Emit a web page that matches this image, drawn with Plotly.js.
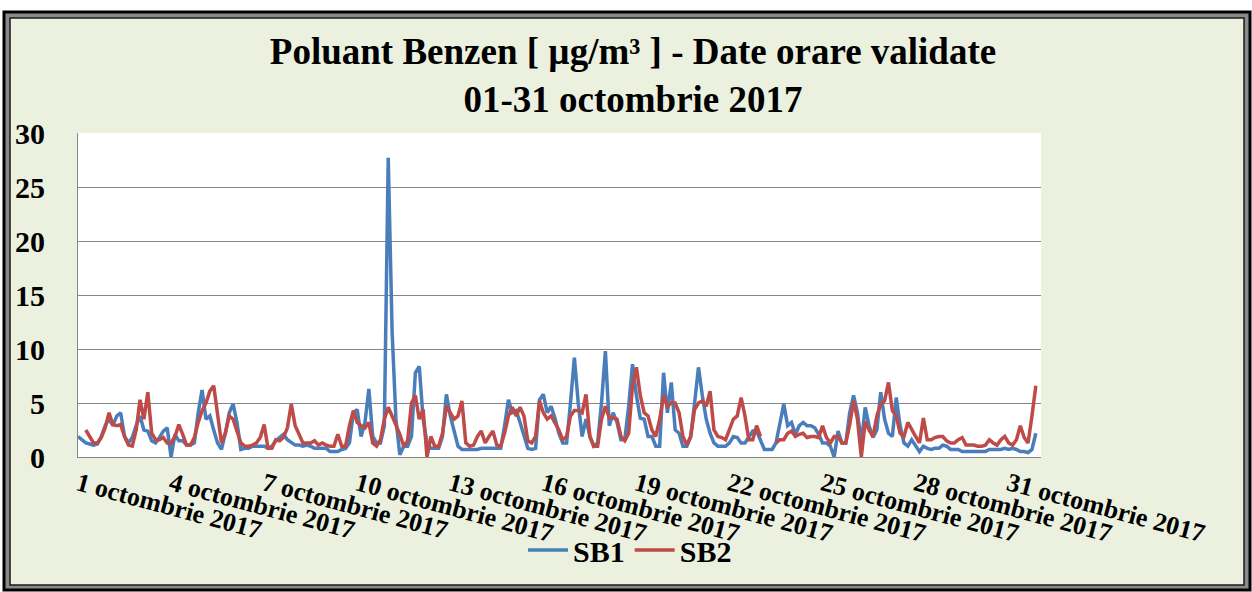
<!DOCTYPE html>
<html><head><meta charset="utf-8">
<script src="https://cdn.plot.ly/plotly-3.0.1.min.js"></script>
<style>html,body{margin:0;padding:0;background:#fff;}#chart{width:1252px;height:592px;}</style>
</head><body><div id="chart"></div>
<script>
// 3-hourly readings, 01-31 Oct 2017, starting 2017-10-01 00:00
const startTime = '2017-10-01 00:00';
const stepMs = 3 * 3600 * 1000;

const sb1 = [
  1.9,1.6,1.3,1.2,1.1,1.2,1.9,2.9,
  3.5,2.9,3.8,4.1,1.9,1.3,1.8,2.9,
  3.8,2.5,2.4,1.5,1.3,1.8,2.4,2.7,
  0,2.1,1.5,1.5,1.1,1.1,1.3,4.1,
  6.2,3.5,3.8,2.5,1.3,0.7,2.2,4.1,
  4.9,3.2,0.7,0.8,0.8,1.0,1.0,1.0,
  1.0,0.8,1.0,1.5,1.8,2.1,1.6,1.3,
  1.1,1.1,1.0,1.1,1.0,0.8,0.8,0.8,
  0.8,0.5,0.5,0.5,0.7,0.8,1.3,4.1,
  4.4,1.9,3.2,6.3,1.9,1.3,1.3,2.9,
  27.7,11.6,3.4,0.2,1.0,1.0,1.9,7.8,
  8.4,3.5,1.3,0.8,0.8,0.8,1.9,5.8,
  3.8,2.5,1.0,0.7,0.7,0.7,0.7,0.7,
  0.8,0.8,0.8,0.8,0.8,0.8,2.9,5.3,
  4.1,4.3,3.2,1.9,0.8,0.7,0.8,5.3,
  5.8,4.1,4.7,3.6,2.2,1.3,1.3,5.0,
  9.2,5.0,1.9,3.5,1.9,1.0,1.3,5.0,
  9.8,2.9,4.1,3.2,1.6,1.6,4.7,8.6,
  5.7,3.6,3.5,1.9,1.9,1.0,1.0,7.8,
  4.1,6.9,2.5,2.2,1.0,1.0,1.9,5.0,
  8.3,5.7,3.5,2.2,1.3,1.0,1.0,1.0,
  1.3,1.9,1.8,1.3,1.3,1.9,2.4,2.4,
  1.6,0.7,0.7,0.7,1.3,3.2,4.9,2.9,
  3.2,2.1,2.9,3.2,2.9,2.9,2.7,2.1,
  1.3,1.3,1.0,0,2.4,1.3,1.3,4.1,
  5.7,4.1,1.3,4.6,2.9,1.8,2.5,6.0,
  3.5,2.2,1.9,5.5,2.9,1.3,1.0,1.6,
  1.0,0.5,1.0,0.8,0.7,0.8,0.8,1.1,
  1.0,0.7,0.7,0.7,0.5,0.5,0.5,0.5,
  0.5,0.5,0.5,0.7,0.7,0.7,0.7,0.8,
  0.7,0.8,0.7,0.5,0.5,0.4,0.7,2.2
];

const sb2 = [
  null,null,2.5,1.9,1.3,1.3,1.8,2.7,
  4.1,3.0,2.9,3.0,1.9,1.1,1.0,2.5,
  5.3,3.5,6.0,2.2,1.6,1.6,1.8,1.3,
  1.3,1.9,3.0,2.1,1.1,1.1,1.8,3.2,
  4.3,5.0,6.1,6.6,4.1,1.3,2.2,3.8,
  3.5,2.5,1.3,1.0,1.0,1.1,1.3,1.8,
  3.0,0.8,0.8,1.6,1.5,1.8,2.7,4.9,
  2.9,2.1,1.3,1.3,1.3,1.5,1.1,1.3,
  1.1,1.0,1.0,2.1,1.0,1.0,2.9,4.3,
  3.2,2.9,2.7,3.2,1.3,1.0,1.6,3.5,
  4.6,3.8,3.0,2.1,1.0,1.5,5.0,5.7,
  3.5,4.4,0,1.9,1.0,1.0,2.2,4.7,
  4.1,3.5,3.8,5.2,1.3,1.0,1.1,1.9,
  2.4,1.3,1.9,2.4,1.1,1.0,2.2,3.8,
  4.6,3.8,4.6,3.8,1.5,1.3,1.9,5.2,
  4.1,3.5,3.8,3.2,2.5,1.6,1.9,3.8,
  4.3,4.3,4.1,5.8,1.9,1.0,1.0,3.5,
  4.7,3.6,3.6,3.5,1.9,1.5,2.2,6.6,
  8.3,5.7,4.1,3.8,2.5,1.9,3.5,5.7,
  4.7,5.0,5.0,4.1,1.9,1.1,1.9,4.4,
  5.0,5.2,4.7,6.1,2.5,1.9,1.8,1.6,
  2.5,3.5,3.8,5.5,3.8,1.6,1.6,2.9,
  1.9,null,null,null,1.3,1.6,1.6,2.2,
  2.4,1.9,2.1,2.2,1.8,1.9,1.9,1.8,
  2.9,1.8,1.3,1.9,1.9,1.3,1.3,3.0,
  5.2,3.5,0,3.3,2.5,1.9,3.8,4.9,
  5.2,6.9,4.3,3.8,2.2,1.9,3.2,2.5,
  1.9,1.3,3.6,1.6,1.6,1.8,1.9,1.9,
  1.5,1.3,1.3,1.6,1.8,1.1,1.1,1.1,
  1.0,1.0,1.1,1.6,1.3,1.1,1.6,1.9,
  1.3,1.1,1.6,2.9,1.8,1.3,3.8,6.6
];

const tickDates = ['2017-10-01','2017-10-04','2017-10-07','2017-10-10','2017-10-13','2017-10-16',
                   '2017-10-19','2017-10-22','2017-10-25','2017-10-28','2017-10-31'];
const tickLabels = ['1 octombrie 2017','4 octombrie 2017','7 octombrie 2017','10 octombrie 2017',
                    '13 octombrie 2017','16 octombrie 2017','19 octombrie 2017','22 octombrie 2017',
                    '25 octombrie 2017','28 octombrie 2017','31 octombrie 2017'];
const seriesNames = ['SB1','SB2'];

const W = 1252, H = 592;
const M = {l: 78, r: 211, t: 133, b: 135};
const PW = W - M.l - M.r, PH = H - M.t - M.b;
const px = x => (x - M.l) / PW;
const py = y => (H - M.b - y) / PH;
const serif = 'Liberation Serif, Times New Roman, serif';

const traces = [
  {x0: startTime, dx: stepMs, y: sb1, name: seriesNames[0], type: 'scatter', mode: 'lines',
   line: {color: '#4A7EBB', width: 3.5}},
  {x0: startTime, dx: stepMs, y: sb2, name: seriesNames[1], type: 'scatter', mode: 'lines',
   line: {color: '#BE4B48', width: 3.5}}
];

const layout = {
  width: W, height: H,
  margin: M,
  paper_bgcolor: '#ffffff',
  plot_bgcolor: '#ffffff',
  font: {family: serif, color: '#000', weight: 700},
  title: {
    text: 'Poluant Benzen [ µg/m³ ] - Date orare validate<br>01-31 octombrie 2017',
    font: {family: serif, size: 37, color: '#000', weight: 700},
    x: 0.5056, xref: 'container', xanchor: 'center',
    y: 1 - 64 / H, yref: 'container', yanchor: 'top'
  },
  xaxis: {
    type: 'date',
    range: ['2017-10-01 00:00', '2017-11-01 01:00'],
    tickmode: 'array', tickvals: tickDates, ticktext: tickLabels,
    tickangle: 15,
    tickfont: {family: serif, size: 26, color: '#000', weight: 700},
    showgrid: false, zeroline: false,
    showline: true, linecolor: '#868686', linewidth: 1,
    ticks: 'outside', ticklen: 1, tickcolor: 'rgba(0,0,0,0)'
  },
  yaxis: {
    range: [0, 30], dtick: 5, tick0: 0,
    tickfont: {family: serif, size: 30, color: '#000', weight: 700},
    showgrid: true, gridcolor: '#868686', gridwidth: 1,
    zeroline: false,
    showline: true, linecolor: '#868686', linewidth: 1,
    ticks: 'outside', ticklen: 26, tickcolor: 'rgba(0,0,0,0)'
  },
  legend: {
    orientation: 'h', x: px(630), xanchor: 'center', y: py(550), yanchor: 'middle',
    font: {family: serif, size: 30, color: '#000', weight: 700},
    bgcolor: 'rgba(0,0,0,0)', itemwidth: 40, tracegroupgap: 0
  },
  showlegend: true,
  shapes: [
    {type: 'rect', xref: 'paper', yref: 'paper', layer: 'below',
     x0: px(4), x1: px(1250), y0: py(590), y1: py(12),
     fillcolor: '#8a8a8a', line: {color: '#000', width: 3}},
    {type: 'rect', xref: 'paper', yref: 'paper', layer: 'below',
     x0: px(10), x1: px(1244), y0: py(585), y1: py(18),
     fillcolor: '#EBF1DE', line: {color: '#1a1a1a', width: 1.5}},
    {type: 'rect', xref: 'paper', yref: 'paper', layer: 'below',
     x0: 0, x1: 1, y0: 0, y1: 1, fillcolor: '#ffffff', line: {width: 0}}
  ]
};

Plotly.newPlot('chart', traces, layout, {staticPlot: true, displayModeBar: false});
</script>
</body></html>
